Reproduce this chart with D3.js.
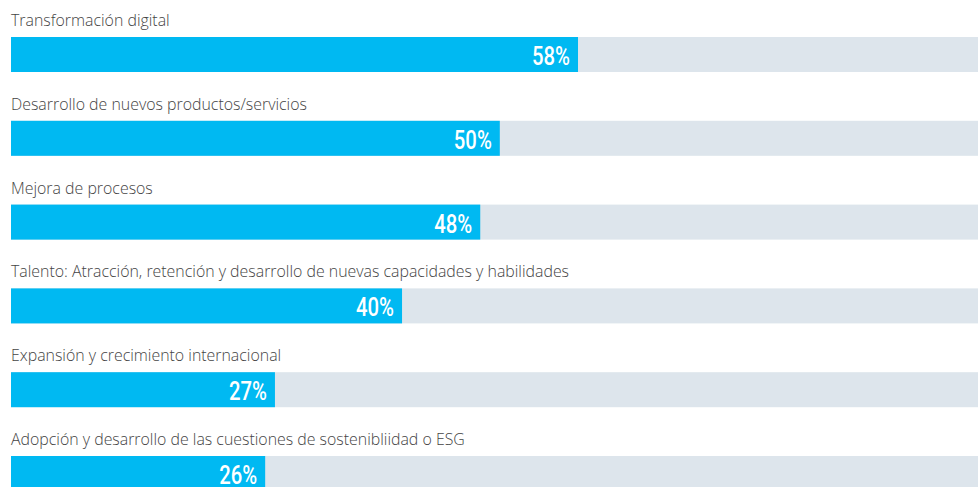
<!DOCTYPE html>
<html lang="es">
<head>
<meta charset="utf-8">
<script src="https://cdn.jsdelivr.net/npm/d3@7"></script>
<style>
  html, body { margin: 0; padding: 0; background: #ffffff; overflow: hidden; }
  svg { display: block; }
</style>
</head>
<body>
<div id="chart"></div>
<script>
// Prioridades estratégicas (% de respuestas)
const categories = [
  "Transformación digital",
  "Desarrollo de nuevos productos/servicios",
  "Mejora de procesos",
  "Talento: Atracción, retención y desarrollo de nuevas capacidades y habilidades",
  "Expansión y crecimiento internacional",
  "Adopción y desarrollo de las cuestiones de sostenibliidad o ESG"
];
const values = [58, 50, 48, 40, 27, 26];

const width = 978, height = 487;

const svg = d3.select("#chart").append("svg")
  .attr("width", width)
  .attr("height", height)
  .attr("viewBox", [0, 0, width, height]);

const x = d3.scaleLinear().domain([0, 100]).range([11, 988.6]);
const y = d3.scaleBand().domain(categories).range([0, 83.8 * categories.length]).paddingInner(0);

const barTop = 37, barH = 35;

const rows = svg.selectAll("g.row")
  .data(categories.map((c, i) => ({ cat: c, value: values[i] })))
  .join("g")
  .attr("class", "row")
  .attr("transform", d => `translate(0,${y(d.cat)})`);

// category label above each bar
rows.append("text")
  .attr("x", 11)
  .attr("y", barTop - 11)
  .attr("font-family", "'Open Sans', sans-serif")
  .attr("font-weight", 300)
  .attr("font-size", 15.9)
  .attr("fill", "#444444")
  .text(d => d.cat);

// track (100%)
rows.append("rect")
  .attr("x", x(0))
  .attr("y", barTop)
  .attr("width", x(100) - x(0))
  .attr("height", barH)
  .attr("fill", "#dde5ec");

// value bar
rows.append("rect")
  .attr("x", x(0))
  .attr("y", barTop)
  .attr("width", d => x(d.value) - x(0))
  .attr("height", barH)
  .attr("fill", "#00b9f2");

// value label, condensed, right-aligned inside the bar
rows.append("text")
  .attr("transform", d => `translate(${x(d.value) - 8},${barTop + 28}) scale(0.78,1)`)
  .attr("text-anchor", "end")
  .attr("font-family", "Roboto, sans-serif")
  .attr("font-weight", 500)
  .attr("font-size", 26)
  .attr("fill", "#ffffff")
  .text(d => d.value + "%");
</script>
</body>
</html>
